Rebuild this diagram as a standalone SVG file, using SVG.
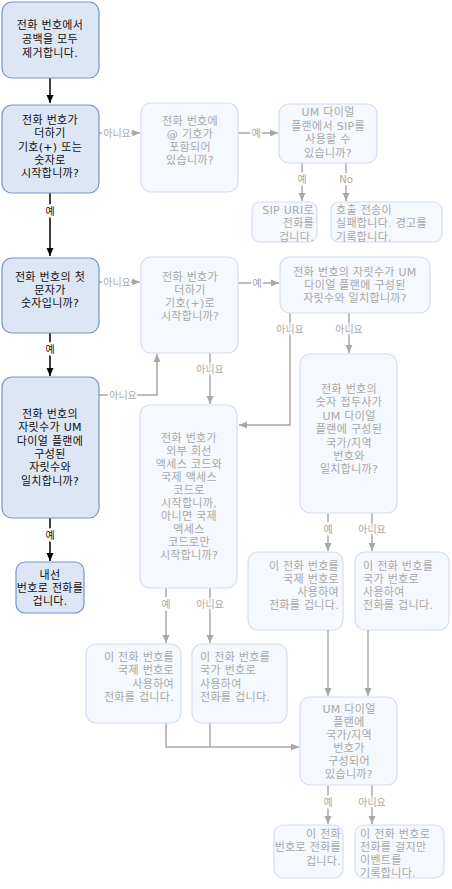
<svg xmlns="http://www.w3.org/2000/svg" width="452" height="889" viewBox="0 0 452 889">
<style>
text{font-family:"DejaVu Sans","Noto Sans CJK KR",sans-serif;font-size:11px;letter-spacing:0.3px}
.a rect{fill:#dde6f5;stroke:#7694d3;stroke-width:1.2}
.a text{fill:#111;text-anchor:middle}
.g rect{fill:#f5f8fd;stroke:#d4def1;stroke-width:1.2}
.g text{fill:#a8a8a8}
.c{text-anchor:middle}
.r{text-anchor:end}
.l{text-anchor:start}
.kb path{fill:none;stroke:#000;stroke-width:1.5}
.kg path{fill:none;stroke:#a8a8a8;stroke-width:1.5}
.lb{font-size:10px;text-anchor:middle;stroke:#fff;stroke-width:4px;paint-order:stroke;dominant-baseline:central;letter-spacing:0}
.kb .lb{fill:#111}
.kg .lb{fill:#a8a8a8}
</style>
<defs>
<marker id="ab" markerUnits="userSpaceOnUse" markerWidth="8" markerHeight="8" refX="8" refY="4" orient="auto"><path d="M0,0.5 L8,4 L0,7.5 z" fill="#000"/></marker>
<marker id="ag" markerUnits="userSpaceOnUse" markerWidth="8" markerHeight="8" refX="8" refY="4" orient="auto"><path d="M0,0.5 L8,4 L0,7.5 z" fill="#a8a8a8"/></marker>
</defs>

<g id="connectors">
<g class="kb">
<path d="M50,78 V103" marker-end="url(#ab)"/>
<path d="M50,193 V256" marker-end="url(#ab)"/>
<text class="lb" x="50" y="211">예</text>
<path d="M50,333 V376" marker-end="url(#ab)"/>
<text class="lb" x="50" y="349">예</text>
<path d="M50,518 V561" marker-end="url(#ab)"/>
<text class="lb" x="50" y="535">예</text>
</g>
<g class="kg">
<path d="M99,133 H140" marker-end="url(#ag)"/>
<text class="lb" x="117" y="133">아니요</text>
<path d="M238,133 H278" marker-end="url(#ag)"/>
<text class="lb" x="256" y="133">예</text>
<path d="M302,163 V201" marker-end="url(#ag)"/>
<text class="lb" x="302" y="179">예</text>
<path d="M346,163 V201" marker-end="url(#ag)"/>
<text class="lb" x="346" y="179">No</text>
<path d="M99,282 H140" marker-end="url(#ag)"/>
<text class="lb" x="117" y="282">아니요</text>
<path d="M238,283 H279" marker-end="url(#ag)"/>
<text class="lb" x="257" y="283">예</text>
<path d="M290,313 V425 H239" marker-end="url(#ag)"/>
<text class="lb" x="290" y="329">아니요</text>
<path d="M349,313 V353" marker-end="url(#ag)"/>
<text class="lb" x="349" y="329">아니요</text>
<path d="M99,395 H157 V354" marker-end="url(#ag)"/>
<text class="lb" x="123" y="395">아니요</text>
<path d="M210,353 V404" marker-end="url(#ag)"/>
<text class="lb" x="210" y="369">아니요</text>
<path d="M328,513 V551" marker-end="url(#ag)"/>
<text class="lb" x="328" y="529">예</text>
<path d="M372,513 V551" marker-end="url(#ag)"/>
<text class="lb" x="372" y="529">아니요</text>
<path d="M166,588 V643" marker-end="url(#ag)"/>
<text class="lb" x="166" y="604">예</text>
<path d="M210,588 V643" marker-end="url(#ag)"/>
<text class="lb" x="210" y="604">아니요</text>
<path d="M166,723 V747 H299" marker-end="url(#ag)"/>
<path d="M210,723 V747"/>
<path d="M328,630 V696" marker-end="url(#ag)"/>
<path d="M368,630 V696" marker-end="url(#ag)"/>
<path d="M328,785 V824" marker-end="url(#ag)"/>
<text class="lb" x="328" y="802">예</text>
<path d="M372,785 V824" marker-end="url(#ag)"/>
<text class="lb" x="372" y="802">아니요</text>
</g>
</g>

<g id="nodeA" class="a"><rect x="2" y="2" width="97" height="76" rx="10"/>
<text x="50" y="29">전화 번호에서</text><text x="50" y="43">공백을 모두</text><text x="50" y="57">제거합니다.</text></g>

<g id="nodeB" class="a"><rect x="2" y="105" width="97" height="88" rx="10"/>
<text x="50" y="124">전화 번호가</text><text x="50" y="137">더하기</text><text x="50" y="151">기호(+) 또는</text><text x="50" y="164">숫자로</text><text x="50" y="177">시작합니까?</text></g>

<g id="nodeC" class="a"><rect x="2" y="258" width="97" height="75" rx="10"/>
<text x="50" y="281">전화 번호의 첫</text><text x="50" y="294">문자가</text><text x="50" y="307">숫자입니까?</text></g>

<g id="nodeD" class="a"><rect x="2" y="377" width="97" height="141" rx="10"/>
<text x="50" y="418">전화 번호의</text><text x="50" y="431">자릿수가 UM</text><text x="50" y="445">다이얼 플랜에</text><text x="50" y="458">구성된</text><text x="50" y="471">자릿수와</text><text x="50" y="485">일치합니까?</text></g>

<g id="nodeE" class="a"><rect x="16" y="562" width="68" height="51" rx="9"/>
<text x="50" y="579">내선</text><text x="50" y="592">번호로 전화를</text><text x="50" y="605">겁니다.</text></g>

<g id="nodeF" class="g"><rect x="141" y="103" width="97" height="89" rx="10"/>
<text class="c" x="190" y="125">전화 번호에</text><text class="c" x="190" y="138">@ 기호가</text><text class="c" x="190" y="151">포함되어</text><text class="c" x="190" y="164">있습니까?</text></g>

<g id="nodeG" class="g"><rect x="279" y="104" width="98" height="59" rx="10"/>
<text class="c" x="328" y="116">UM 다이얼</text><text class="c" x="328" y="130">플랜에서 SIP를</text><text class="c" x="328" y="143">사용할 수</text><text class="c" x="328" y="157">있습니까?</text></g>

<g id="nodeH" class="g"><rect x="252" y="202" width="65" height="40" rx="8"/>
<text class="r" x="314" y="214">SIP URI로</text><text class="r" x="314" y="227">전화를</text><text class="r" x="314" y="241">겁니다.</text></g>

<g id="nodeI" class="g"><rect x="331" y="202" width="111" height="40" rx="8"/>
<text class="l" x="336" y="214">호출 전송이</text><text class="l" x="336" y="227">실패합니다. 경고를</text><text class="l" x="336" y="241">기록합니다.</text></g>

<g id="nodeJ" class="g"><rect x="141" y="257" width="97" height="96" rx="10"/>
<text class="c" x="190" y="281">전화 번호가</text><text class="c" x="190" y="294">더하기</text><text class="c" x="190" y="307">기호(+)로</text><text class="c" x="190" y="320">시작합니까?</text></g>

<g id="nodeK" class="g"><rect x="280" y="257" width="150" height="56" rx="10"/>
<text class="c" x="355" y="276">전화 번호의 자릿수가 UM</text><text class="c" x="355" y="289">다이얼 플랜에 구성된</text><text class="c" x="355" y="302">자릿수와 일치합니까?</text></g>

<g id="nodeL" class="g"><rect x="300" y="354" width="97" height="159" rx="10"/>
<text class="c" x="349" y="393">전화 번호의</text><text class="c" x="349" y="406">숫자 접두사가</text><text class="c" x="349" y="420">UM 다이얼</text><text class="c" x="349" y="433">플랜에 구성된</text><text class="c" x="349" y="447">국가/지역</text><text class="c" x="349" y="460">번호와</text><text class="c" x="349" y="473">일치합니까?</text></g>

<g id="nodeM" class="g"><rect x="140" y="405" width="97" height="183" rx="10"/>
<text class="c" x="189" y="442">전화 번호가</text><text class="c" x="189" y="455">외부 회선</text><text class="c" x="189" y="468">액세스 코드와</text><text class="c" x="189" y="481">국제 액세스</text><text class="c" x="189" y="494">코드로</text><text class="c" x="189" y="507">시작합니까,</text><text class="c" x="189" y="520">아니면 국제</text><text class="c" x="189" y="533">액세스</text><text class="c" x="189" y="546">코드로만</text><text class="c" x="189" y="559">시작합니까?</text></g>

<g id="nodeN" class="g"><rect x="248" y="552" width="95" height="78" rx="10"/>
<text class="r" x="339" y="570">이 전화 번호를</text><text class="r" x="339" y="583">국제 번호로</text><text class="r" x="339" y="596">사용하여</text><text class="r" x="339" y="609">전화를 겁니다.</text></g>

<g id="nodeO" class="g"><rect x="355" y="552" width="94" height="78" rx="10"/>
<text class="l" x="363" y="570">이 전화 번호를</text><text class="l" x="363" y="583">국가 번호로</text><text class="l" x="363" y="596">사용하여</text><text class="l" x="363" y="609">전화를 겁니다.</text></g>

<g id="nodeP" class="g"><rect x="86" y="644" width="95" height="79" rx="10"/>
<text class="r" x="174" y="661">이 전화 번호를</text><text class="r" x="174" y="674">국제 번호로</text><text class="r" x="174" y="688">사용하여</text><text class="r" x="174" y="701">전화를 겁니다.</text></g>

<g id="nodeQ" class="g"><rect x="192" y="644" width="95" height="79" rx="10"/>
<text class="l" x="200" y="661">이 전화 번호를</text><text class="l" x="200" y="674">국가 번호로</text><text class="l" x="200" y="688">사용하여</text><text class="l" x="200" y="701">전화를 겁니다.</text></g>

<g id="nodeR" class="g"><rect x="300" y="697" width="97" height="88" rx="10"/>
<text class="c" x="349" y="713">UM 다이얼</text><text class="c" x="349" y="726">플랜에</text><text class="c" x="349" y="739">국가/지역</text><text class="c" x="349" y="752">번호가</text><text class="c" x="349" y="765">구성되어</text><text class="c" x="349" y="778">있습니까?</text></g>

<g id="nodeS" class="g"><rect x="274" y="825" width="69" height="53" rx="9"/>
<text class="r" x="341" y="838">이 전화</text><text class="r" x="341" y="851">번호로 전화를</text><text class="r" x="341" y="865">겁니다.</text></g>

<g id="nodeT" class="g"><rect x="355" y="825" width="89" height="53" rx="9"/>
<text class="l" x="360" y="838">이 전화 번호로</text><text class="l" x="360" y="851">전화를 걸지만</text><text class="l" x="360" y="864">이벤트를</text><text class="l" x="360" y="877">기록합니다.</text></g>
</svg>
